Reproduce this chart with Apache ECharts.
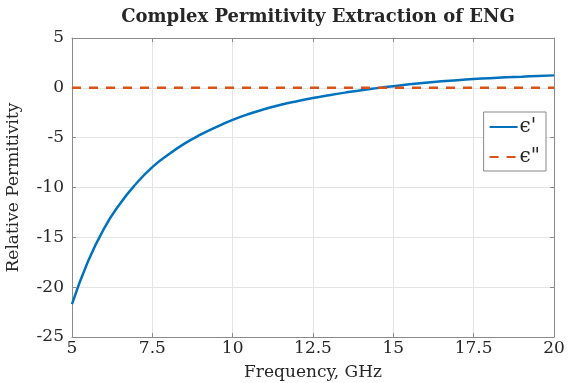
<!DOCTYPE html>
<html><head><meta charset="utf-8">
<script src="https://cdn.jsdelivr.net/npm/echarts@6/dist/echarts.min.js"></script>
<style>html,body{margin:0;padding:0;background:#fff}#c{width:568px;height:383px}</style>
</head><body><div id="c"></div>
<script>
const titleText = 'Complex Permitivity Extraction of ENG';
const xName = 'Frequency, GHz';
const yName = 'Relative Permitivity';
const seriesNames = ["ϵ'", 'ϵ"'];
const freq = [5, 5.5, 6, 6.5, 7, 7.5, 8, 8.5, 9, 9.5, 10, 10.5, 11, 11.5, 12, 12.5, 13, 13.5, 14, 14.5, 15, 15.5, 16, 16.5, 17, 17.5, 18, 18.5, 19, 19.5, 20];
const epsReal = [-21.7, -17.4, -14.1, -11.6, -9.6, -7.95, -6.7, -5.6, -4.7, -3.92, -3.22, -2.63, -2.13, -1.7, -1.34, -1.02, -0.74, -0.48, -0.24, -0.03, 0.17, 0.35, 0.51, 0.65, 0.77, 0.88, 0.97, 1.05, 1.12, 1.19, 1.25];
const freqImag = [5, 20];
const epsImag = [0, 0];
const xTicks = [5, 7.5, 10, 12.5, 15, 17.5, 20];
const yTicks = [-25, -20, -15, -10, -5, 0, 5];

const FONT = 'DejaVu Serif';
const chart = echarts.init(document.getElementById('c'), null, {renderer: 'canvas'});
const axisCol = '#8a8a8a';
const txtCol = '#262626';
chart.setOption({
  animation: false,
  title: {text: titleText, left: 313, textAlign: 'center', top: 3,
    textStyle: {fontFamily: FONT, fontWeight: 'bold', fontSize: 18, color: txtCol}},
  grid: {left: 72, right: 14, top: 38, bottom: 46, containLabel: false, outerBoundsMode: 'none'},
  legend: {
    right: 22, top: 112, orient: 'vertical', itemWidth: 28, itemHeight: 14, itemGap: 10,
    borderColor: '#888', borderWidth: 1, padding: [5, 6, 4, 5], backgroundColor: '#fff',
    itemStyle: {opacity: 0},
    textStyle: {fontFamily: FONT, fontSize: 20, color: txtCol, padding: [0,0,0,-3]},
    data: [seriesNames[0], seriesNames[1]]
  },
  xAxis: [{
    type: 'value', min: 5, max: 20, interval: 2.5,
    name: xName, nameLocation: 'middle', nameGap: 27,
    nameTextStyle: {fontFamily: FONT, fontSize: 17, color: txtCol},
    axisLine: {onZero: false, lineStyle: {color: axisCol}},
    axisTick: {inside: true, length: 4, lineStyle: {color: axisCol}},
    axisLabel: {fontFamily: FONT, fontSize: 17, color: txtCol, margin: 3,
      formatter: v => xTicks.includes(v) ? String(v) : ''},
    splitLine: {show: true, lineStyle: {color: '#e4e4e4'}}
  }, {
    type: 'value', min: 5, max: 20, interval: 2.5, position: 'top',
    axisLine: {onZero: false, lineStyle: {color: axisCol}},
    axisTick: {inside: true, length: 4, lineStyle: {color: axisCol}},
    axisLabel: {show: false}, splitLine: {show: false}
  }],
  yAxis: [{
    type: 'value', min: -25, max: 5, interval: 5,
    name: yName, nameLocation: 'middle', nameGap: 50, nameRotate: 90,
    nameTextStyle: {fontFamily: FONT, fontSize: 17, color: txtCol},
    axisLine: {show: true, onZero: false, lineStyle: {color: axisCol}},
    axisTick: {show: true, inside: true, length: 4, lineStyle: {color: axisCol}},
    axisLabel: {fontFamily: FONT, fontSize: 17, color: txtCol, margin: 8,
      formatter: v => yTicks.includes(v) ? String(v) : ''},
    splitLine: {show: true, lineStyle: {color: '#e4e4e4'}}
  }, {
    type: 'value', min: -25, max: 5, interval: 5, position: 'right',
    axisLine: {show: true, onZero: false, lineStyle: {color: axisCol}},
    axisTick: {show: true, inside: true, length: 4, lineStyle: {color: axisCol}},
    axisLabel: {show: false}, splitLine: {show: false}
  }],
  series: [{
    name: seriesNames[0], type: 'line', smooth: true, symbol: 'none',
    data: freq.map((f, i) => [f, epsReal[i]]),
    lineStyle: {color: '#0072BD', width: 2.5}, itemStyle: {color: '#0072BD'}
  }, {
    name: seriesNames[1], type: 'line', symbol: 'none',
    data: freqImag.map((f, i) => [f, epsImag[i]]),
    lineStyle: {color: '#D95319', width: 2.5, type: [9, 8]}, itemStyle: {color: '#D95319'}
  }]
});
</script></body></html>
